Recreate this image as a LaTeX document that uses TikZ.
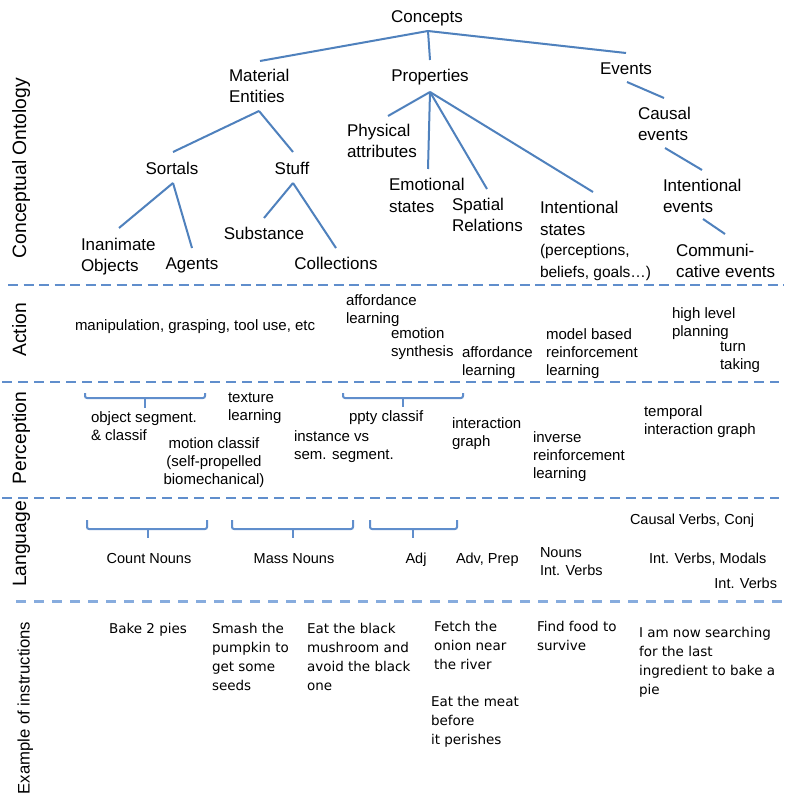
\documentclass[tikz,border=0pt]{standalone}
\usepackage{fontspec}
\setmainfont{Liberation Sans}
\newfontfamily\exfont{DejaVu Sans}
% stacked lines whose baseline is the first line's baseline
\newcommand{\txtl}[1]{\begin{tabular}[t]{@{}l@{}}#1\end{tabular}}
\newcommand{\txtc}[1]{\begin{tabular}[t]{@{}c@{}}#1\end{tabular}}
\definecolor{treeblue}{RGB}{79,129,189}
\definecolor{dashblue}{RGB}{96,142,204}
\definecolor{dashlight}{RGB}{135,172,222}
\begin{document}
\begin{tikzpicture}[x=1pt,y=-1pt,
  every node/.style={inner sep=0pt, outer sep=0pt},
  treetext/.style={font=\fontsize{17}{21}\selectfont},
  minortext/.style={font=\fontsize{15}{18.3}\selectfont},
  langtext/.style={font=\fontsize{14.5}{18}\selectfont},
  extext/.style={font=\exfont\fontsize{13.5}{19}\selectfont},
  rowlabel/.style={rotate=90, anchor=base, font=\fontsize{19.3}{22}\selectfont},
  branch/.style={draw=treeblue, line width=2pt},
  divider/.style={draw=dashblue, line width=2.6pt, dash pattern=on 10pt off 5.5pt},
  bracket/.style={draw=dashblue, line width=2pt, rounded corners=2pt},
]
\fill[white] (0,0) rectangle (792,802);
\useasboundingbox (0,0) rectangle (792,802);

% ---------- row labels ----------
\node[rowlabel] (lOnto) at (26,168) {Conceptual Ontology};
\node[rowlabel] (lAct)  at (26,330) {Action};
\node[rowlabel] (lPerc) at (26,438) {Perception};
\node[rowlabel] (lLang) at (26,544) {Language};
\node[rowlabel, font=\fontsize{16.7}{20}\selectfont] (lEx) at (29.5,708) {Example of instructions};

% ---------- row dividers ----------
\coordinate (d1a) at (8,285);   \coordinate (d1b) at (784,285);
\coordinate (d2a) at (2,382);   \coordinate (d2b) at (779,382);
\coordinate (d3a) at (2,498);   \coordinate (d3b) at (779,498);
\coordinate (d4a) at (16,601);  \coordinate (d4b) at (783,601);
\draw[divider] (d1a) -- (d1b);
\draw[divider, dash pattern=on 10pt off 6pt] (d2a) -- (d2b);
\draw[divider, dash pattern=on 10pt off 6pt] (d3a) -- (d3b);
\draw[divider, draw=dashlight, line width=3pt, dash pattern=on 9.5pt off 8.5pt] (d4a) -- (d4b);

% ---------- conceptual ontology ----------
\node[treetext, anchor=base] (concepts) at (427,23) {Concepts};
\node[treetext, anchor=base west] (material) at (229,82) {\txtl{Material\\Entities}};
\node[treetext, anchor=base] (properties) at (430,82) {Properties};
\node[treetext, anchor=base] (events) at (626,75) {Events};
\node[treetext, anchor=base] (sortals) at (172,175) {Sortals};
\node[treetext, anchor=base] (stuff) at (292,175) {Stuff};
\node[treetext, anchor=base west] (inanimate) at (81,250) {\txtl{Inanimate\\Objects}};
\node[treetext, anchor=base] (agents) at (192,269) {Agents};
\node[treetext, anchor=base] (substance) at (264,239) {Substance};
\node[treetext, anchor=base] (collections) at (336,269) {Collections};
\node[treetext, anchor=base west] (physical) at (347,137) {\txtl{Physical\\attributes}};
\node[treetext, anchor=base west] (emotional) at (389,191) {\txtl{Emotional\\states}};
\node[treetext, anchor=base west] (spatial) at (452,211) {\txtl{Spatial\\Relations}};
\node[treetext, anchor=base west] (intstates) at (540,214)
  {\txtl{Intentional\\states\\
   \fontsize{15.5}{18.5}\selectfont (perceptions,\\
   \fontsize{15.5}{18.5}\selectfont beliefs, goals…)}};
\node[treetext, anchor=base west] (causal) at (638,120) {\txtl{Causal\\events}};
\node[treetext, anchor=base west] (intevents) at (663,192) {\txtl{Intentional\\events}};
\node[treetext, anchor=base west] (communi) at (676,256) {\txtl{Communi-\\cative events}};

% branch points and branch ends
\coordinate (jConcepts) at (428,31);
\coordinate (eMaterial) at (260,61);
\coordinate (eProperties) at (430,60);
\coordinate (eEvents) at (626,53);
\coordinate (jMaterial) at (259,111);
\coordinate (eSortals) at (173,152);
\coordinate (eStuff) at (293,152);
\coordinate (jSortals) at (173,183);
\coordinate (eInanimate) at (119,228);
\coordinate (eAgents) at (192,248);
\coordinate (jStuff) at (293,183);
\coordinate (eSubstance) at (264,218);
\coordinate (eCollections) at (336,248);
\coordinate (jProperties) at (430,92);
\coordinate (ePhysical) at (388,116);
\coordinate (eEmotional) at (428,169);
\coordinate (eSpatial) at (487,189);
\coordinate (eIntStates) at (593,192);
\coordinate (jEvents) at (627,82);
\coordinate (eCausal) at (664,98);
\coordinate (jCausal) at (665,148);
\coordinate (eIntEvents) at (702,170);
\coordinate (jIntEvents) at (703,219);
\coordinate (eCommuni) at (725,234);

\draw[branch] (jConcepts) -- (eMaterial);
\draw[branch] (jConcepts) -- (eProperties);
\draw[branch] (jConcepts) -- (eEvents);
\draw[branch] (jMaterial) -- (eSortals);
\draw[branch] (jMaterial) -- (eStuff);
\draw[branch] (jSortals) -- (eInanimate);
\draw[branch] (jSortals) -- (eAgents);
\draw[branch] (jStuff) -- (eSubstance);
\draw[branch] (jStuff) -- (eCollections);
\draw[branch] (jProperties) -- (ePhysical);
\draw[branch] (jProperties) -- (eEmotional);
\draw[branch] (jProperties) -- (eSpatial);
\draw[branch] (jProperties) -- (eIntStates);
\draw[branch] (jEvents) -- (eCausal);
\draw[branch] (jCausal) -- (eIntEvents);
\draw[branch] (jIntEvents) -- (eCommuni);

% ---------- action ----------
\node[minortext, anchor=base west] (manip) at (75,330) {manipulation, grasping, tool use, etc};
\node[minortext, anchor=base west] (afford1) at (346,305) {\txtl{affordance\\learning}};
\node[minortext, anchor=base west] (emotion) at (391,338) {\txtl{emotion\\synthesis}};
\node[minortext, anchor=base west] (afford2) at (462,357) {\txtl{affordance\\learning}};
\node[minortext, anchor=base west] (mbrl) at (546,339) {\txtl{model based\\reinforcement\\learning}};
\node[minortext, anchor=base west] (planning) at (672,318) {\txtl{high level\\planning}};
\node[minortext, anchor=base west] (turn) at (720,351) {\txtl{turn\\taking}};

% ---------- perception ----------
\draw[bracket] (85,393) -- (85,398) -- (205,398) -- (205,393);
\draw[bracket, rounded corners=0pt] (145,398) -- (145,408);
\draw[bracket] (343,393) -- (343,398) -- (463,398) -- (463,393);
\draw[bracket, rounded corners=0pt] (403,398) -- (403,407);
\node[minortext, anchor=base west] (objseg) at (91,422) {\txtl{object segment.\\\& classif}};
\node[minortext, anchor=base west] (texture) at (228,402) {\txtl{texture\\learning}};
\node[minortext, anchor=base] (motion) at (214,448) {\txtc{motion classif\\(self-propelled\\biomechanical)}};
\node[minortext, anchor=base west] (instance) at (294,441) {\txtl{instance vs\\sem. segment.}};
\node[minortext, anchor=base west] (ppty) at (349,421) {ppty classif};
\node[minortext, anchor=base west] (intgraph) at (452,428) {\txtl{interaction\\graph}};
\node[minortext, anchor=base west] (irl) at (533,442) {\txtl{inverse\\reinforcement\\learning}};
\node[minortext, anchor=base west] (temporal) at (644,416) {\txtl{temporal\\interaction graph}};

% ---------- language ----------
\draw[bracket] (87,520) -- (87,529) -- (207,529) -- (207,520);
\draw[bracket, rounded corners=0pt] (148,529) -- (148,538);
\draw[bracket] (232,520) -- (232,529) -- (353,529) -- (353,520);
\draw[bracket, rounded corners=0pt] (293,529) -- (293,538);
\draw[bracket] (370,520) -- (370,529) -- (457,529) -- (457,520);
\draw[bracket, rounded corners=0pt] (413,529) -- (413,538);
\node[langtext, anchor=base] (count) at (149,563) {Count Nouns};
\node[langtext, anchor=base] (mass) at (294,563) {Mass Nouns};
\node[langtext, anchor=base] (adj) at (416,563) {Adj};
\node[langtext, anchor=base west] (advprep) at (456,563) {Adv, Prep};
\node[langtext, anchor=base west] (nouns) at (540,557) {\txtl{Nouns\\Int. Verbs}};
\node[langtext, anchor=base west] (causalverbs) at (630,524) {Causal Verbs, Conj};
\node[langtext, anchor=base west] (modals) at (649,563) {Int. Verbs, Modals};
\node[langtext, anchor=base east] (intverbs) at (777,588) {Int. Verbs};

% ---------- example instructions ----------
\node[extext, anchor=base west] (bake) at (109,633) {Bake 2 pies};
\node[extext, anchor=base west] (smash) at (212,633) {\txtl{Smash the\\pumpkin to\\get some\\seeds}};
\node[extext, anchor=base west] (mushroom) at (307,633) {\txtl{Eat the black\\mushroom and\\avoid the black\\one}};
\node[extext, anchor=base west] (fetch) at (434,631) {\txtl{Fetch the\\onion near\\the river}};
\node[extext, anchor=base west] (meat) at (431,706) {\txtl{Eat the meat\\before\\it perishes}};
\node[extext, anchor=base west] (food) at (537,631) {\txtl{Find food to\\survive}};
\node[extext, anchor=base west] (search) at (639,637) {\txtl{I am now searching\\for the last\\ingredient to bake a\\pie}};
\end{tikzpicture}
\end{document}
